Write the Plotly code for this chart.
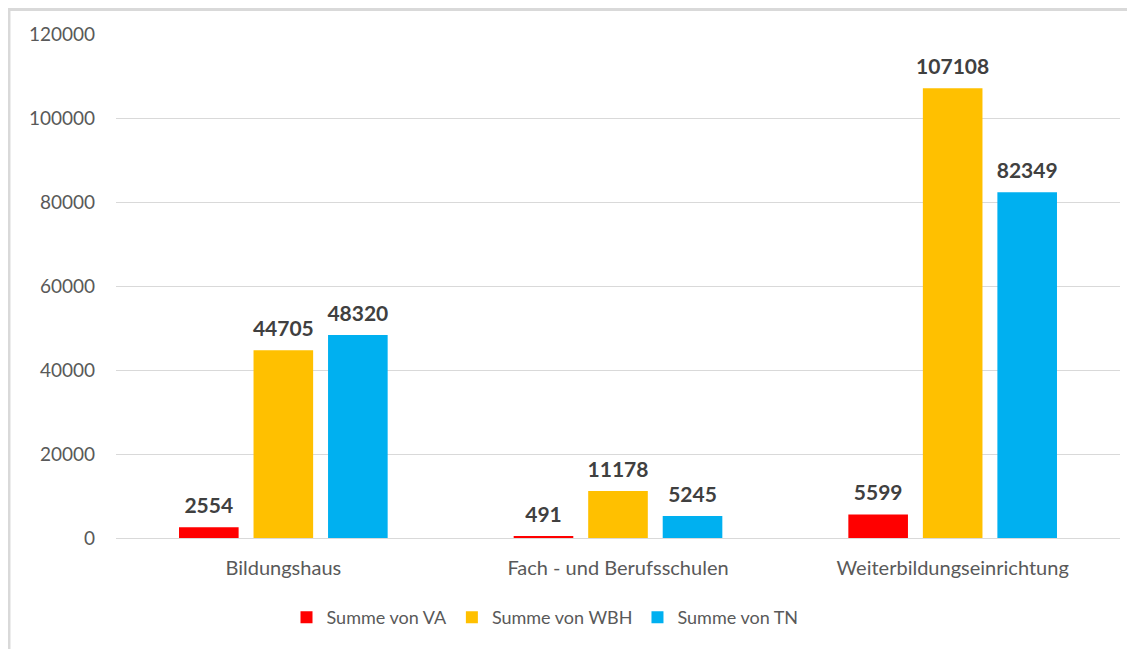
import plotly.graph_objects as go

# categories and series
kategorien = ["Bildungshaus", "Fach - und Berufsschulen", "Weiterbildungseinrichtung"]
summe_va = [2554, 491, 5599]
summe_wbh = [44705, 11178, 107108]
summe_tn = [48320, 5245, 82349]

serien = [
    ("Summe von VA", summe_va, "#FF0000"),
    ("Summe von WBH", summe_wbh, "#FFC000"),
    ("Summe von TN", summe_tn, "#00B0F0"),
]

fig = go.Figure()
for name, werte, farbe in serien:
    fig.add_trace(go.Bar(
        name=name, x=kategorien, y=werte,
        marker=dict(color=farbe, line=dict(width=0)),
    ))
# value labels, grouped like the bars
for name, werte, farbe in serien:
    fig.add_trace(go.Scatter(
        x=kategorien, y=werte, mode="markers+text",
        text=[f"<b>{w}</b>" for w in werte], textposition="top center",
        textfont=dict(family="Lato", size=21, color="#404040"),
        marker=dict(size=13, opacity=0),
        showlegend=False, hoverinfo="skip", cliponaxis=False,
    ))

fig.update_layout(
    width=1127, height=641,
    paper_bgcolor="white", plot_bgcolor="white",
    margin=dict(l=108, r=15, t=26, b=111),
    barmode="group", bargap=0.332, bargroupgap=0.2,
    scattermode="group", scattergap=0.332,
    font=dict(family="Lato", size=18, color="#595959"),
    showlegend=True,
    legend=dict(orientation="h", x=0.4273, xanchor="center", y=-0.121, yanchor="top",
                font=dict(size=18, color="#595959"), itemwidth=30,
                traceorder="normal"),
    shapes=[dict(type="rect", xref="paper", yref="paper",
                 x0=-0.1066, x1=1.03, y0=-0.25, y1=1.0486,
                 line=dict(color="#D9D9D9", width=3), layer="below")],
)
fig.update_yaxes(range=[0, 120000], dtick=20000, tickformat="d",
                 showgrid=True, gridcolor="#D9D9D9", gridwidth=1,
                 zeroline=False, showline=False, ticklabelstandoff=20,
                 tickfont=dict(size=19, color="#595959"))
fig.update_xaxes(showline=True, linecolor="#D9D9D9", linewidth=1,
                 ticks="", ticklabelstandoff=12,
                 tickfont=dict(size=20, color="#595959"))

fig.write_html("out.html")
